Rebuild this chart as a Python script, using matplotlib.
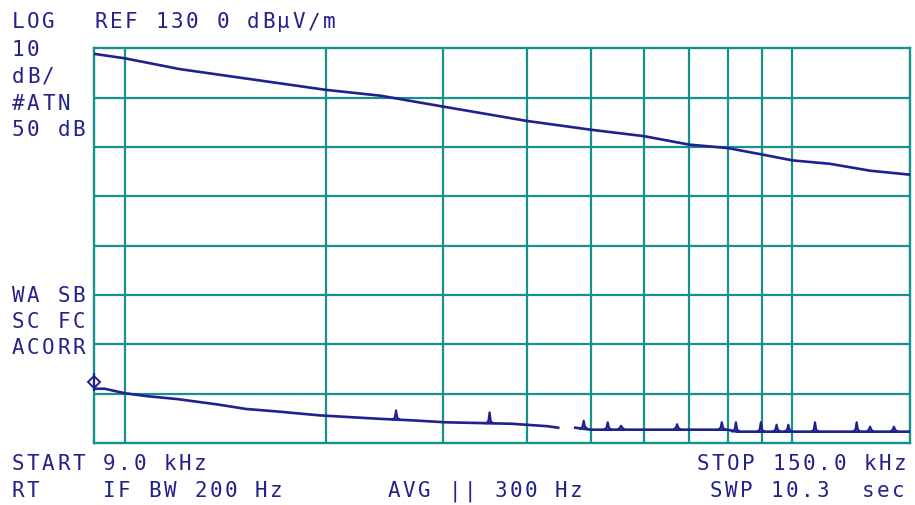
import numpy as np
import matplotlib.pyplot as plt

# sweep limits and display scale
f_start, f_stop = 9.0, 150.0           # kHz
ref_level, db_per_div, n_div = 130.0, 10.0, 8

grid_freqs = [10, 20, 30, 40, 50, 60, 70, 80, 90, 100]   # kHz
grid_levels = [60, 70, 80, 90, 100, 110, 120]            # dBuV/m

# upper trace (kHz, dBuV/m)
upper_f = [9.0, 10.0, 12.1, 20.0, 24.2, 30.0, 40.0, 50.0, 60.0, 70.0,
           80.0, 90.0, 100.0, 113.9, 130.8, 150.0]
upper_db = [128.9, 128.0, 125.8, 121.6, 120.4, 118.2, 115.3, 113.5, 112.2, 110.5,
            109.8, 108.5, 107.3, 106.6, 105.2, 104.4]

# lower trace baseline, NaN marks the gap in the sweep
lower_f = [9.0, 9.34, 10.0, 10.8, 12.0, 13.8, 15.2, 16.9, 19.6, 21.4, 24.1, 26.9,
           30.2, 38.0, 43.0, 44.6, 45.8, 47.3, 49.9, 80.0, 82.5, 150.0]
lower_db = [61.0, 61.0, 60.1, 59.5, 58.9, 57.8, 56.9, 56.4, 55.6, 55.3, 54.9, 54.6,
            54.2, 53.9, 53.4, 53.1, np.nan, 53.1, 52.7, 52.7, 52.3, 52.3]

# narrow spurs on the lower trace (kHz, peak dBuV/m)
spur_f = [25.5, 35.2, 48.7, 52.9, 55.4, 67.2, 78.4, 82.3, 89.7, 94.7, 98.6,
          108.1, 124.8, 130.7, 141.9]
spur_db = [56.6, 56.2, 54.5, 54.2, 53.5, 53.8, 54.2, 54.2, 54.2, 53.7, 53.7,
           54.2, 54.2, 53.3, 53.3]

marker_f, marker_db = 9.0, 62.4

# annotation text: (x px, y px, text)
header = [(12, 22, "LOG"), (95, 22, "REF 130 0 dB\u03bcV/m")]
side_top = [(12, 50, "10"), (12, 77, "dB/"), (12, 104, "#ATN"), (12, 130, "50 dB")]
side_low = [(12, 296, "WA SB"), (12, 322, "SC FC"), (12, 348, "ACORR")]
footer = [(12, 464, "START 9.0 kHz"), (697, 464, "STOP 150.0 kHz"),
          (12, 491, "RT    IF BW 200 Hz"), (388, 491, "AVG || 300 Hz"),
          (710, 491, "SWP 10.3  sec")]

W, H = 915, 506
GRID = "#17918b"
TRACE = "#20208f"
TEXT = "#22228a"
PITCH = 15.2

fig = plt.figure(figsize=(W / 100, H / 100), dpi=100)
fig.patch.set_facecolor("white")
ax = fig.add_axes([94 / W, 1 - 444 / H, (910 - 94) / W, (444 - 49.4) / H])

ax.set_xscale("log")
ax.set_xlim(f_start, f_stop)
ax.set_ylim(ref_level - n_div * db_per_div, ref_level)
ax.set_xticks([])
ax.set_yticks([])
ax.minorticks_off()
for s in ax.spines.values():
    s.set_color(GRID)
    s.set_linewidth(1.7)

for f in grid_freqs:
    ax.axvline(f, color=GRID, lw=1.6, zorder=1)
for lv in grid_levels:
    ax.axhline(lv, color=GRID, lw=1.6, zorder=1)

ax.plot(upper_f, upper_db, color=TRACE, lw=1.9, zorder=3)
ax.plot(lower_f, lower_db, color=TRACE, lw=1.9, zorder=3)

# each spur is a small peak rising from the baseline
lf = np.array(lower_f)
ld = np.array(lower_db)
ok = ~np.isnan(ld)
for f, p in zip(spur_f, spur_db):
    base = np.interp(np.log10(f), np.log10(lf[ok]), ld[ok])
    ax.plot([f / 1.012, f / 1.004, f, f * 1.004, f * 1.012],
            [base, base + 0.4, p, base + 0.4, base],
            color=TRACE, lw=1.6, zorder=3)

# marker at sweep start
ax.plot([marker_f, marker_f], [marker_db - 1.6, marker_db + 1.6], color=TRACE,
        lw=1.5, clip_on=False, zorder=4)
ax.plot([marker_f], [marker_db], marker="D", ms=6, mfc="none", mec=TRACE, mew=1.4,
        clip_on=False, zorder=4)


def put(x, y, text):
    # character-cell text like the analyzer display
    for i, ch in enumerate(text):
        if ch == " ":
            continue
        fig.text((x + i * PITCH + 6) / W, 1 - y / H, ch, color=TEXT,
                 family="DejaVu Sans Mono", fontsize=15, ha="center", va="center")


for x, y, t in header + side_top + side_low + footer:
    put(x, y, t)

fig.savefig("out.png", dpi=100)
